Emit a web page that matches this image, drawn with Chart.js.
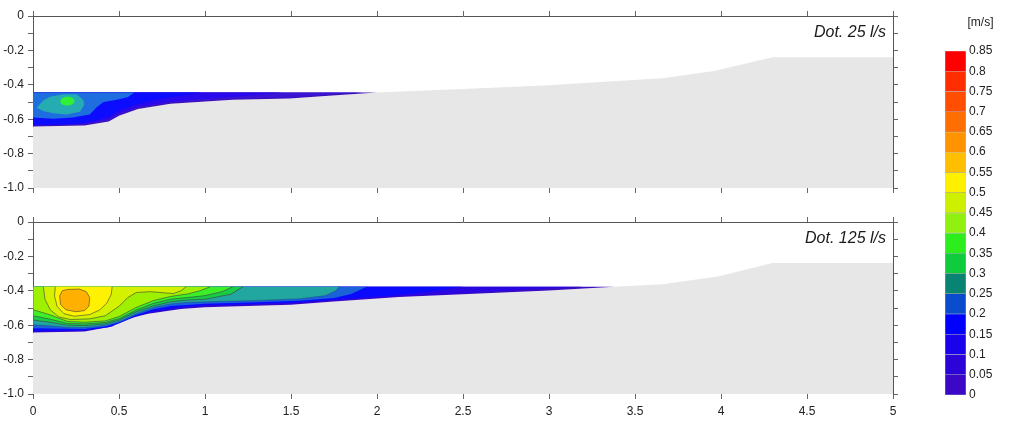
<!DOCTYPE html>
<html><head><meta charset="utf-8">
<script src="https://cdn.jsdelivr.net/npm/chart.js@4.4.1/dist/chart.umd.min.js"></script>
<style>
html,body{margin:0;padding:0;background:#fff;width:1024px;height:444px;overflow:hidden;position:relative;}
canvas{position:absolute;}
.lbl{position:absolute;font-family:'Liberation Sans',Arial,sans-serif;font-style:italic;font-size:16px;color:#1a1a1a;line-height:20px;white-space:nowrap;}
</style></head><body>
<canvas id="top" width="930" height="206" style="left:0;top:0"></canvas>
<canvas id="bot" width="930" height="238" style="left:0;top:206px"></canvas>
<canvas id="bar" width="96" height="444" style="left:932px;top:0"></canvas>
<div class="lbl" style="right:138px;top:22px">Dot. 25 l/s</div>
<div class="lbl" style="right:138px;top:228px">Dot. 125 l/s</div>
<script>
// ---------- DATA ----------
const xTickStep = 0.5;
const yTickStep = 0.1;
const topSurface = -0.445;
const botSurface = -0.377;

// bed (grey) profiles
const topBed = [[0,-0.643],[0.3,-0.636],[0.44,-0.614],[0.5,-0.58],[0.61,-0.54],[0.8,-0.51],[1.16,-0.487],[1.49,-0.48],[1.74,-0.462],[2.0,-0.445],[2.5,-0.424],[3.0,-0.402],[3.3,-0.384],[3.66,-0.362],[3.96,-0.32],[4.3,-0.24],[5,-0.24]];
const botBed = [[0,-0.643],[0.3,-0.637],[0.46,-0.607],[0.53,-0.568],[0.67,-0.534],[0.86,-0.506],[1.0,-0.495],[1.5,-0.481],[1.75,-0.462],[2.13,-0.436],[2.5,-0.42],[3.0,-0.398],[3.38,-0.377],[3.66,-0.362],[3.99,-0.316],[4.3,-0.238],[5,-0.238]];

// velocity bands, Dot. 25 l/s (region with v >= level)
const top_v000 = [[0,-0.445],[2.0,-0.445],[1.74,-0.462],[1.49,-0.48],[1.16,-0.487],[0.8,-0.51],[0.61,-0.54],[0.5,-0.58],[0.44,-0.614],[0.3,-0.636],[0,-0.643]];
const top_v005 = [[0,-0.445],[1.92,-0.445],[1.74,-0.457],[1.49,-0.475],[1.16,-0.482],[0.8,-0.505],[0.61,-0.535],[0.5,-0.575],[0.44,-0.608],[0.3,-0.631],[0,-0.638]];
const top_v010 = [[0,-0.445],[1.45,-0.445],[1.2,-0.468],[1.0,-0.482],[0.8,-0.498],[0.61,-0.527],[0.5,-0.567],[0.44,-0.6],[0.3,-0.627],[0,-0.636]];
const top_v015 = [[0,-0.445],[0.98,-0.445],[0.9,-0.458],[0.8,-0.472],[0.7,-0.49],[0.6,-0.515],[0.5,-0.55],[0.44,-0.585],[0.35,-0.612],[0.25,-0.628],[0,-0.634]];
const top_v020 = [[0,-0.445],[0.59,-0.445],[0.55,-0.472],[0.48,-0.488],[0.41,-0.5],[0.37,-0.53],[0.33,-0.572],[0.23,-0.59],[0.12,-0.598],[0,-0.59]];
const top_v025 = [[0.021,-0.533],[0.06,-0.49],[0.099,-0.469],[0.177,-0.455],[0.254,-0.455],[0.293,-0.488],[0.297,-0.517],[0.273,-0.556],[0.196,-0.572],[0.118,-0.566],[0.06,-0.552]];
const top_v035 = [[0.243,-0.495],[0.235,-0.48],[0.215,-0.47],[0.19,-0.469],[0.168,-0.478],[0.157,-0.495],[0.165,-0.512],[0.185,-0.521],[0.212,-0.521],[0.233,-0.51]];

// velocity bands, Dot. 125 l/s
const bot_v000 = [[0,-0.377],[3.38,-0.377],[3.0,-0.398],[2.5,-0.42],[2.13,-0.436],[1.75,-0.462],[1.5,-0.481],[1.0,-0.495],[0.86,-0.506],[0.67,-0.534],[0.53,-0.568],[0.46,-0.607],[0.3,-0.637],[0,-0.643]];
const bot_v010 = [[0,-0.377],[3.2,-0.377],[2.9,-0.392],[2.5,-0.414],[2.13,-0.431],[1.75,-0.457],[1.5,-0.476],[1.0,-0.49],[0.86,-0.501],[0.67,-0.529],[0.53,-0.563],[0.46,-0.602],[0.3,-0.633],[0,-0.639]];
const bot_v015 = [[0,-0.377],[2.5,-0.377],[2.3,-0.405],[2.13,-0.425],[1.75,-0.452],[1.5,-0.47],[1.0,-0.484],[0.86,-0.496],[0.7,-0.518],[0.6,-0.548],[0.5,-0.59],[0.44,-0.612],[0.3,-0.629],[0,-0.634]];
const bot_v020 = [[0,-0.377],[1.94,-0.377],[1.85,-0.418],[1.75,-0.442],[1.55,-0.458],[1.3,-0.467],[1.0,-0.476],[0.8,-0.488],[0.7,-0.507],[0.6,-0.54],[0.5,-0.585],[0.42,-0.608],[0.3,-0.622],[0,-0.618]];
const bot_v025 = [[0,-0.377],[1.78,-0.377],[1.76,-0.4],[1.7,-0.428],[1.55,-0.446],[1.3,-0.456],[1.0,-0.464],[0.9,-0.467],[0.8,-0.476],[0.7,-0.497],[0.6,-0.532],[0.5,-0.578],[0.42,-0.6],[0.3,-0.614],[0.2,-0.612],[0.1,-0.603],[0,-0.598]];
const bot_v030 = [[0,-0.377],[1.22,-0.377],[1.15,-0.42],[1.0,-0.449],[0.9,-0.454],[0.8,-0.464],[0.7,-0.488],[0.6,-0.522],[0.5,-0.57],[0.42,-0.592],[0.3,-0.603],[0.2,-0.6],[0.1,-0.583],[0,-0.57]];
const bot_v035 = [[0,-0.377],[1.16,-0.377],[1.1,-0.405],[1.0,-0.428],[0.9,-0.439],[0.8,-0.449],[0.7,-0.473],[0.6,-0.512],[0.5,-0.562],[0.42,-0.584],[0.3,-0.593],[0.2,-0.59],[0.1,-0.565],[0,-0.545]];
const bot_v040 = [[0,-0.377],[1.03,-0.377],[0.97,-0.4],[0.9,-0.418],[0.8,-0.433],[0.7,-0.457],[0.6,-0.497],[0.5,-0.55],[0.42,-0.575],[0.3,-0.583],[0.2,-0.578],[0.1,-0.54],[0,-0.51]];
const bot_v045 = [[0.06,-0.377],[0.89,-0.377],[0.86,-0.4],[0.815,-0.416],[0.68,-0.405],[0.6,-0.41],[0.55,-0.44],[0.5,-0.49],[0.42,-0.545],[0.33,-0.563],[0.22,-0.567],[0.15,-0.552],[0.1,-0.51],[0.07,-0.45]];
const bot_v050 = [[0.13,-0.377],[0.46,-0.377],[0.455,-0.42],[0.43,-0.47],[0.39,-0.51],[0.33,-0.538],[0.24,-0.548],[0.18,-0.533],[0.14,-0.49],[0.125,-0.43]];
const bot_v055 = [[0.2,-0.392],[0.27,-0.39],[0.31,-0.405],[0.33,-0.44],[0.325,-0.49],[0.3,-0.515],[0.25,-0.522],[0.19,-0.51],[0.16,-0.48],[0.155,-0.43],[0.17,-0.4]];

// colour scale
const levels = [0,0.05,0.1,0.15,0.2,0.25,0.3,0.35,0.4,0.45,0.5,0.55,0.6,0.65,0.7,0.75,0.8,0.85];
const levelColors = ['#3a08c6','#2c04d8','#1a02ec','#0000ff','#0a4ccc','#0a8472','#10cc3c','#2cee1c','#90f010','#ccf000','#fff000','#ffbe00','#ff9400','#ff6e00','#ff4e00','#ff2e00','#ff0000'];
const bedColor = '#e7e7e7';

// ---------- CHARTS ----------
Chart.defaults.font.family = "'Liberation Sans', Arial, sans-serif";
Chart.defaults.font.size = 12;
Chart.defaults.color = '#222';

const toPts = arr => arr.map(p => ({x:p[0], y:p[1]}));
const closed = arr => toPts(arr.concat([arr[0]]));
const bedPoly = bed => closed([[0,-1]].concat(bed, [[5,-1]]));

function layer(arr, color, surf, lineCol) {
  const ds = {data: closed(arr), showLine:true, fill:'shape', backgroundColor:color,
    pointRadius:0, borderWidth: lineCol ? 0.8 : 0, borderColor: lineCol || 'rgba(0,0,0,0)', tension:0};
  if (lineCol) {
    ds.segment = {borderColor: c => (Math.abs(c.p0.parsed.y - surf) < 1e-6 && Math.abs(c.p1.parsed.y - surf) < 1e-6) ? 'rgba(0,0,0,0)' : lineCol};
  }
  return ds;
}

function yLabel(v){ const k = Math.round(v*10); if (k % 2 !== 0) return ''; if (k === 0) return '0'; return (k/10).toFixed(1); }

function plotOptions(bottomH, showX) {
  const g = {drawOnChartArea:false, drawTicks:true, tickLength:5, color:'#666', lineWidth:1};
  return {
    responsive:false, animation:false, events:[],
    plugins:{legend:{display:false}, tooltip:{enabled:false}, title:{display:false}},
    layout:{padding:0},
    scales:{
      x:{type:'linear', position:'bottom', min:0, max:5,
        ticks:{display:showX, stepSize:xTickStep, padding:5, maxRotation:0, autoSkip:false, color:'#222',
          callback: v => String(Math.round(v*10)/10)},
        grid:g, border:{display:false}, afterFit: s => { s.height = bottomH; }},
      x2:{type:'linear', position:'top', min:0, max:5,
        ticks:{display:false, stepSize:xTickStep}, grid:g, border:{display:true, color:'#555'},
        afterFit: s => { s.height = 16; }},
      y:{type:'linear', position:'left', min:-1, max:0,
        ticks:{stepSize:yTickStep, padding:4, autoSkip:false, color:'#222', callback:yLabel},
        grid:g, border:{display:true, color:'#555'}, afterFit: s => { s.width = 33; }},
      y2:{type:'linear', position:'right', min:-1, max:0,
        ticks:{display:false, stepSize:yTickStep}, grid:g, border:{display:true, color:'#555'},
        afterFit: s => { s.width = 37; }}
    }
  };
}

function withOrder(list){ const n = list.length; return list.map((d,i) => Object.assign(d, {order: n - i})); }

const topLayers = withOrder([
  layer([[0,0]], bedColor),
  layer(top_v000, '#3c10b0'),
  layer(top_v005, '#3a14d4'),
  layer(top_v010, '#280aec'),
  layer(top_v015, '#0c0cff'),
  layer(top_v020, '#1e6ee0'),
  layer(top_v025, '#24acb2'),
  layer(top_v035, '#30f038')
]);
topLayers[0].data = bedPoly(topBed);

const lc = 'rgba(60,60,60,0.75)';
const botLayers = withOrder([
  layer([[0,0]], bedColor),
  layer(bot_v000, '#3a0cc0'),
  layer(bot_v010, '#2a06e0'),
  layer(bot_v015, '#0a0aff'),
  layer(bot_v020, '#1a62d8'),
  layer(bot_v025, '#22a6a0', botSurface, 'rgba(40,40,80,0.35)'),
  layer(bot_v030, '#18cc44', botSurface, lc),
  layer(bot_v035, '#3cf028', botSurface, lc),
  layer(bot_v040, '#9cf000', botSurface, lc),
  layer(bot_v045, '#d4f200', botSurface, lc),
  layer(bot_v050, '#fff200', botSurface, lc),
  layer(bot_v055, '#ffb000', botSurface, lc)
]);
botLayers[0].data = bedPoly(botBed);

new Chart(document.getElementById('top'), {type:'scatter', data:{datasets:topLayers}, options:plotOptions(18, false)});
new Chart(document.getElementById('bot'), {type:'scatter', data:{datasets:botLayers}, options:plotOptions(50, true)});

new Chart(document.getElementById('bar'), {
  type:'bar',
  data:{labels:[''], datasets: levelColors.map((c,i) => ({
    data:[[levels[i], levels[i+1]]], backgroundColor:c, borderColor:'rgba(0,0,0,0.22)',
    borderWidth:0.6, borderSkipped:false, barPercentage:1, categoryPercentage:1}))},
  options:{
    responsive:false, animation:false, events:[],
    layout:{padding:{left:13, right:12, bottom:49, top:0}},
    plugins:{legend:{display:false}, tooltip:{enabled:false},
      title:{display:true, text:'[m/s]', color:'#222', font:{size:12, weight:'normal'}, padding:{top:15, bottom:21.6}}},
    scales:{
      x:{display:false, stacked:true},
      y:{position:'right', min:0, max:0.85,
        ticks:{stepSize:0.05, maxTicksLimit:18, padding:3, autoSkip:false, color:'#222',
          callback: v => String(Math.round(v*100)/100)},
        grid:{display:false, drawTicks:false}, border:{display:false},
        afterFit: s => { s.width = 50; }}
    }
  }
});
</script>
</body></html>
